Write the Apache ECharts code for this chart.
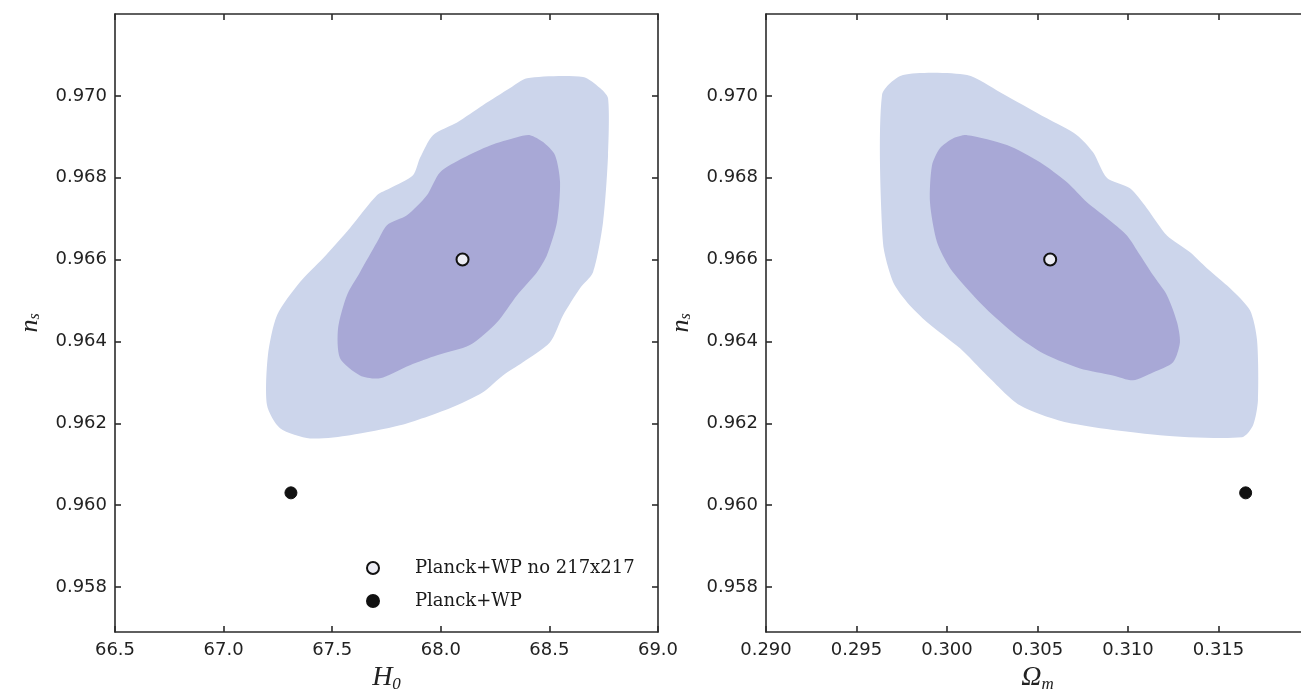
<!DOCTYPE html>
<html>
<head>
<meta charset="utf-8">
<script src="https://cdn.jsdelivr.net/npm/echarts@6/dist/echarts.min.js"></script>
<style>
html,body{margin:0;padding:0;background:#fff;}
#chart{width:1301px;height:692px;}
</style>
</head>
<body>
<div id="chart"></div>
<script>
// ---- data ----
const nsTicks = [0.958, 0.960, 0.962, 0.964, 0.966, 0.968, 0.970];
const h0Range = [66.5, 69.0];
const omRange = [0.290, 0.320];
const nsRange = [0.9569, 0.9720];

// Left panel: H0 vs ns contours
const h0Outer = [
  [68.397,0.97043],[68.655,0.97046],[68.733,0.97019],[68.770,0.96994],[68.770,0.96855],
  [68.747,0.96691],[68.701,0.96569],[68.641,0.96530],[68.563,0.96464],[68.503,0.96398],
  [68.378,0.96349],[68.286,0.96317],[68.194,0.96276],[68.042,0.96237],[67.812,0.96195],
  [67.582,0.96171],[67.398,0.96163],[67.260,0.96188],[67.200,0.96244],[67.204,0.96366],
  [67.246,0.96464],[67.352,0.96545],[67.458,0.96603],[67.582,0.96677],[67.706,0.96757],
  [67.766,0.96774],[67.872,0.96806],[67.904,0.96848],[67.964,0.96904],[68.075,0.96935],
  [68.194,0.96977],[68.319,0.97019]
];
const h0Inner = [
  [68.411,0.96904],[68.471,0.96887],[68.526,0.96855],[68.549,0.96789],[68.535,0.96691],
  [68.489,0.96611],[68.443,0.96569],[68.351,0.96513],[68.259,0.96447],[68.134,0.96391],
  [67.983,0.96366],[67.858,0.96342],[67.720,0.96310],[67.628,0.96317],[67.536,0.96359],
  [67.527,0.96432],[67.568,0.96513],[67.628,0.96569],[67.706,0.96642],[67.752,0.96684],
  [67.844,0.96708],[67.936,0.96757],[67.996,0.96813],[68.102,0.96848],[68.227,0.96879],
  [68.351,0.96899]
];
// Right panel: Omega_m vs ns contours
const omOuter = [
  [0.29757,0.97051],[0.30111,0.97051],[0.30293,0.97009],[0.30552,0.96945],[0.30718,0.96904],
  [0.30807,0.96862],[0.30884,0.96799],[0.31011,0.96774],[0.31105,0.96725],[0.31215,0.96659],
  [0.31343,0.96618],[0.31436,0.96579],[0.31564,0.96530],[0.31674,0.96476],[0.31713,0.96403],
  [0.31718,0.96256],[0.31691,0.96195],[0.31630,0.96166],[0.31177,0.96171],[0.30663,0.96202],
  [0.30403,0.96244],[0.30221,0.96317],[0.30072,0.96383],[0.29890,0.96447],[0.29779,0.96496],
  [0.29702,0.96545],[0.29646,0.96642],[0.29641,0.97002]
];
const omInner = [
  [0.30111,0.96904],[0.30331,0.96880],[0.30514,0.96838],[0.30663,0.96789],[0.30773,0.96740],
  [0.30884,0.96701],[0.30994,0.96659],[0.31066,0.96611],[0.31138,0.96562],[0.31215,0.96513],
  [0.31271,0.96447],[0.31287,0.96398],[0.31249,0.96349],[0.31138,0.96324],[0.31028,0.96305],
  [0.30917,0.96317],[0.30735,0.96334],[0.30552,0.96366],[0.30403,0.96408],[0.30254,0.96464],
  [0.30144,0.96513],[0.30017,0.96579],[0.29945,0.96642],[0.29906,0.96740],[0.29917,0.96830],
  [0.29961,0.96872],[0.30033,0.96896]
];
// best-fit points
const seriesNames = ['Planck+WP no 217x217', 'Planck+WP'];
const h0NoHighL = [[68.10, 0.9660]];
const h0Full = [[67.31, 0.9603]];
const omNoHighL = [[0.3057, 0.9660]];
const omFull = [[0.3165, 0.9603]];

// ---- styles ----
const AX = '#2b2b2b';
const OUTER = '#ccd5eb';
const INNER = '#a8a8d6';
const tickFont = {fontFamily: 'DejaVu Sans', fontSize: 18, color: '#222'};

function polySeries(pts, color, gi, z) {
  return {
    type: 'custom', xAxisIndex: gi * 2, yAxisIndex: gi * 2, z: z, silent: true,
    data: pts, encode: {x: 0, y: 1},
    renderItem: function (params, api) {
      if (params.dataIndex !== 0) return;
      const points = pts.map(function (p) { return api.coord(p); });
      return {type: 'polygon', shape: {points: points, smooth: 0.25}, style: {fill: color}};
    }
  };
}
function pointSeries(name, data, gi, open) {
  return {
    type: 'scatter', name: name, xAxisIndex: gi * 2, yAxisIndex: gi * 2, z: 10,
    data: data, symbol: 'circle', symbolSize: 12,
    itemStyle: open ? {color: '#ececf4', borderColor: '#111', borderWidth: 2, opacity: 1}
                    : {color: '#111', borderColor: '#111', borderWidth: 1, opacity: 1}
  };
}
const nameRich = {
  i: {fontFamily: 'Liberation Serif', fontStyle: 'italic', fontSize: 28, color: '#222'},
  s: {fontFamily: 'Liberation Serif', fontStyle: 'italic', fontSize: 17, color: '#222', padding: [13, 0, 0, 0]}
};
const nameRichY = {
  i: {fontFamily: 'Liberation Serif', fontStyle: 'italic', fontSize: 26, color: '#222'},
  s: {fontFamily: 'Liberation Serif', fontStyle: 'italic', fontSize: 16, color: '#222', padding: [10, 0, 0, 0]}
};

function xAxes(gi, range, interval, digits, name) {
  const base = {
    type: 'value', gridIndex: gi, min: range[0], max: range[1], interval: interval,
    splitLine: {show: false},
    axisLine: {show: true, onZero: false, lineStyle: {color: AX, width: 1.6}},
    axisTick: {show: true, inside: true, length: 6, lineStyle: {color: AX, width: 1.6}}
  };
  return [
    Object.assign({}, base, {
      position: 'bottom', name: name, nameLocation: 'middle', nameGap: 25,
      nameTextStyle: {rich: nameRich},
      axisLabel: Object.assign({margin: 9, formatter: function (v) {
        return v > range[1] - interval / 2 && gi === 1 ? '' : v.toFixed(digits);
      }}, tickFont)
    }),
    Object.assign({}, base, {position: 'top', axisLabel: {show: false}})
  ];
}
function yAxes(gi) {
  const base = {
    type: 'value', gridIndex: gi, min: nsRange[0], max: nsRange[1],
    splitLine: {show: false},
    axisLine: {show: true, onZero: false, lineStyle: {color: AX, width: 1.6}},
    axisTick: {show: true, inside: true, length: 6, customValues: nsTicks, lineStyle: {color: AX, width: 1.6}}
  };
  return [
    Object.assign({}, base, {
      position: 'left', name: '{i|n}{s|s}', nameLocation: 'middle', nameGap: 72, nameRotate: 90,
      nameTextStyle: {rich: nameRichY},
      axisLabel: Object.assign({margin: 8, customValues: nsTicks, formatter: function (v) { return v.toFixed(3); }}, tickFont)
    }),
    Object.assign({}, base, {position: 'right', axisLabel: {show: false}})
  ];
}

const chart = echarts.init(document.getElementById('chart'), null, {renderer: 'canvas'});
chart.setOption({
  animation: false,
  backgroundColor: '#ffffff',
  grid: [
    {left: 115, top: 14, width: 543, height: 618, outerBoundsMode: 'none', containLabel: false},
    {left: 766, top: 14, width: 543, height: 618, outerBoundsMode: 'none', containLabel: false}
  ],
  xAxis: [].concat(xAxes(0, h0Range, 0.5, 1, '{i|H}{s|0}'), xAxes(1, omRange, 0.005, 3, '{i|Ω}{s|m}')),
  yAxis: [].concat(yAxes(0), yAxes(1)),
  legend: {
    data: [
      {name: seriesNames[0], icon: 'circle'},
      {name: seriesNames[1], icon: 'circle'}
    ],
    orient: 'vertical', left: 366, top: 559, padding: 0, itemWidth: 12, itemHeight: 12, itemGap: 15,
    textStyle: {fontFamily: 'DejaVu Serif', fontSize: 18, color: '#1a1a1a', padding: [0, 0, 0, 31]}
  },
  series: [
    polySeries(h0Outer, OUTER, 0, 1),
    polySeries(h0Inner, INNER, 0, 2),
    polySeries(omOuter, OUTER, 1, 1),
    polySeries(omInner, INNER, 1, 2),
    pointSeries(seriesNames[0], h0NoHighL, 0, true),
    pointSeries(seriesNames[1], h0Full, 0, false),
    pointSeries(seriesNames[0], omNoHighL, 1, true),
    pointSeries(seriesNames[1], omFull, 1, false)
  ]
});
</script>
</body>
</html>
